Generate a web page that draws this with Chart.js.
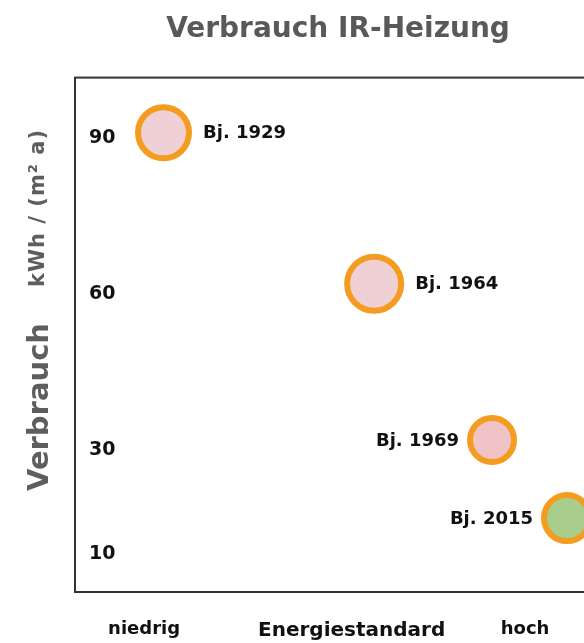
<!DOCTYPE html>
<html>
<head>
<meta charset="utf-8">
<script src="https://cdn.jsdelivr.net/npm/chart.js@4"></script>
<style>
html, body { margin: 0; padding: 0; overflow: hidden; background: #fff; }
#wrap { width: 584px; height: 643px; overflow: hidden; }
canvas { display: block; }
</style>
</head>
<body>
<div id="wrap"><canvas id="chart" width="610" height="671"></canvas></div>
<script>
const buildings = ['Bj. 1929', 'Bj. 1964', 'Bj. 1969', 'Bj. 2015'];
const energyStandard = [16.7, 56.9, 79.4, 93.7];
const consumption = [91, 62, 32, 17];
const bubbleSize = [25.5, 27, 22, 23];
const yTicks = [10, 30, 60, 90];
const xTickValues = [13, 52.6, 85.7];
const xTickLabels = ['niedrig', 'Energiestandard', 'hoch'];

const FONT = "'DejaVu Sans', Verdana, sans-serif";
const fills = ['#efd0d5', '#efd0d5', '#f0c4c7', '#a9cd8c'];
const labelSide = ['right', 'right', 'left', 'left'];

// frame, y axis title and bubble labels
const decor = {
    id: 'decor',
    beforeDatasetsDraw(chart) {
        const { ctx, chartArea: a } = chart;
        ctx.save();
        ctx.strokeStyle = '#333';
        ctx.lineWidth = 2;
        ctx.strokeRect(a.left - 1, a.top - 1, a.right - a.left + 2, a.bottom - a.top + 2);
        ctx.restore();
    },
    afterDatasetsDraw(chart) {
        const { ctx } = chart;
        const meta = chart.getDatasetMeta(0);
        ctx.save();
        ctx.font = 'bold 18px ' + FONT;
        ctx.fillStyle = '#111';
        ctx.textBaseline = 'middle';
        meta.data.forEach((el, i) => {
            const r = el.options.radius + el.options.borderWidth / 2;
            if (labelSide[i] === 'right') {
                ctx.textAlign = 'left';
                ctx.fillText(buildings[i], el.x + r + 11, el.y + 1);
            } else {
                ctx.textAlign = 'right';
                ctx.fillText(buildings[i], el.x - r - 8, el.y + 1);
            }
        });
        ctx.restore();
    },
    afterDraw(chart) {
        const { ctx } = chart;
        ctx.save();
        ctx.fillStyle = '#5e5e5e';
        ctx.textAlign = 'center';
        ctx.textBaseline = 'alphabetic';
        ctx.translate(48, 407);
        ctx.rotate(-Math.PI / 2);
        ctx.font = 'bold 29px ' + FONT;
        ctx.fillText('Verbrauch', 0, 0);
        ctx.restore();

        ctx.save();
        ctx.fillStyle = '#5e5e5e';
        ctx.textAlign = 'center';
        ctx.textBaseline = 'alphabetic';
        ctx.translate(44, 208);
        ctx.rotate(-Math.PI / 2);
        ctx.font = 'bold 21px ' + FONT;
        ctx.letterSpacing = '1px';
        ctx.fillText('kWh / (m² a)', 0, 0);
        ctx.restore();
    }
};

new Chart(document.getElementById('chart'), {
    type: 'bubble',
    data: {
        datasets: [{
            label: 'Verbrauch',
            data: buildings.map((b, i) => ({ x: energyStandard[i], y: consumption[i], r: bubbleSize[i] })),
            backgroundColor: fills,
            borderColor: '#f39c1f',
            borderWidth: 6,
        }],
    },
    options: {
        responsive: false,
        animation: false,
        layout: { autoPadding: false, padding: { left: 50, right: 10, top: 0, bottom: 0 } },
        plugins: {
            legend: { display: false },
            tooltip: { enabled: false },
            title: {
                display: true,
                text: 'Verbrauch IR-Heizung',
                fullSize: false,
                color: '#595959',
                font: { family: FONT, size: 28, weight: 'bold' },
                padding: { top: 13, bottom: 32 },
            },
        },
        scales: {
            x: {
                type: 'linear',
                min: 0,
                max: 100,
                grid: { display: false, drawTicks: false },
                border: { display: false },
                afterBuildTicks: (s) => { s.ticks = xTickValues.map(v => ({ value: v })); },
                ticks: {
                    autoSkip: false,
                    maxRotation: 0,
                    padding: 28,
                    color: '#111',
                    font: (c) => ({ family: FONT, weight: 'bold', size: c.index === 1 ? 20 : 18 }),
                    callback: (v, i) => xTickLabels[i],
                },
            },
            y: {
                type: 'linear',
                min: 3,
                max: 101.4,
                grid: { display: false, drawTicks: false },
                border: { display: false },
                afterBuildTicks: (s) => { s.ticks = yTicks.map(v => ({ value: v })); },
                ticks: {
                    mirror: true,
                    padding: 13,
                    color: '#111',
                    font: { family: FONT, size: 19, weight: 'bold' },
                },
            },
        },
    },
    plugins: [decor],
});
</script>
</body>
</html>
